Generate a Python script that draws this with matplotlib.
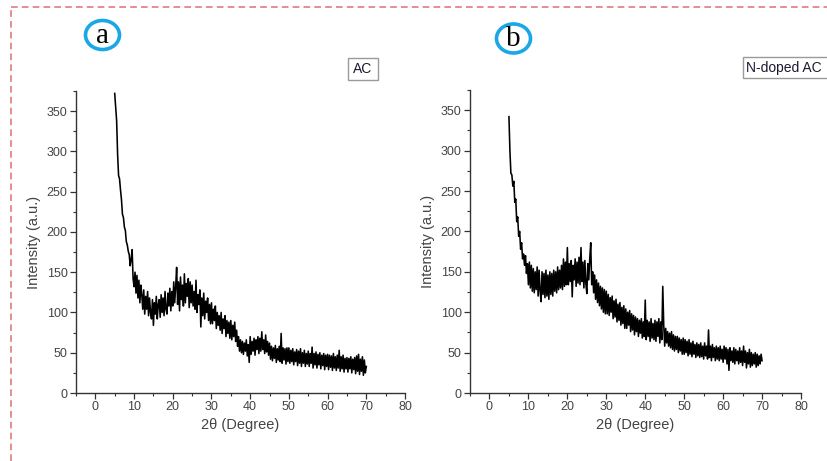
import numpy as np
import matplotlib
matplotlib.use("Agg")
import matplotlib.pyplot as plt
from matplotlib.patches import Ellipse, Rectangle
from matplotlib.lines import Line2D

plt.rcParams["font.family"] = ["Liberation Sans", "DejaVu Sans"]

# XRD patterns, one value every 0.25 degree from 5 to 70
two_theta_start = 5.0
two_theta_step = 0.25

intensity_ac = [
    372, 355, 338, 296, 270, 266, 252, 240, 222, 218,
    206, 202, 188, 184, 176, 172, 158, 166, 178, 142,
    132, 150, 124, 146, 118, 140, 112, 134, 122, 104,
    128, 98, 120, 104, 126, 96, 118, 100, 92, 116,
    84, 112, 98, 120, 92, 110, 116, 94, 122, 100,
    118, 96, 126, 104, 98, 124, 108, 130, 102, 126,
    108, 138, 112, 132, 156, 110, 138, 102, 144, 116,
    134, 108, 148, 112, 136, 120, 142, 106, 138, 112,
    134, 108, 126, 104, 140, 100, 122, 110, 128, 82,
    118, 96, 124, 92, 114, 100, 118, 90, 110, 86,
    112, 86, 104, 90, 108, 80, 100, 84, 96, 78,
    100, 74, 92, 80, 96, 70, 90, 74, 88, 68,
    90, 66, 84, 70, 88, 64, 78, 58, 70, 52,
    66, 50, 64, 48, 62, 52, 66, 46, 60, 38,
    70, 48, 64, 52, 68, 47, 66, 54, 70, 49,
    68, 52, 76, 54, 66, 49, 72, 51, 64, 47,
    62, 42, 58, 40, 56, 43, 59, 38, 55, 41,
    58, 39, 74, 37, 56, 41, 55, 36, 56, 39,
    56, 37, 53, 39, 55, 35, 51, 39, 54, 34,
    52, 37, 55, 33, 50, 37, 53, 33, 49, 36,
    52, 33, 49, 37, 57, 31, 49, 35, 51, 31,
    48, 35, 50, 30, 47, 34, 49, 29, 47, 33,
    48, 29, 47, 32, 46, 28, 49, 31, 45, 28,
    47, 31, 53, 27, 45, 30, 47, 26, 43, 30,
    44, 26, 43, 30, 45, 25, 42, 29, 44, 24,
    46, 27, 48, 23, 42, 27, 45, 22, 41, 25,
    33,
]

intensity_ndoped = [
    342, 300, 272, 270, 256, 262, 236, 240, 212, 218,
    194, 200, 178, 186, 166, 172, 158, 170, 148, 160,
    134, 162, 130, 158, 126, 154, 124, 150, 128, 156,
    120, 152, 126, 113, 150, 122, 148, 118, 152, 120,
    146, 116, 150, 122, 148, 120, 152, 126, 150, 124,
    156, 128, 152, 130, 158, 128, 166, 132, 162, 134,
    180, 134, 160, 138, 164, 119, 158, 140, 166, 132,
    162, 136, 168, 134, 180, 138, 162, 130, 164, 136,
    123, 160, 140, 166, 186, 134, 150, 124, 146, 116,
    140, 112, 136, 108, 132, 104, 130, 100, 128, 98,
    126, 98, 122, 96, 118, 100, 120, 92, 114, 94,
    116, 88, 110, 90, 112, 84, 106, 86, 108, 80,
    104, 80, 100, 84, 102, 76, 98, 78, 96, 72,
    94, 76, 92, 70, 90, 74, 92, 68, 88, 70,
    115, 66, 90, 70, 88, 64, 92, 68, 86, 66,
    90, 64, 88, 70, 92, 62, 88, 66, 132, 84,
    58, 80, 62, 76, 58, 74, 56, 76, 54, 72,
    52, 70, 54, 70, 50, 68, 52, 66, 48, 68,
    48, 66, 50, 64, 46, 66, 48, 62, 45, 64,
    48, 60, 44, 62, 46, 60, 44, 62, 45, 58,
    42, 62, 46, 58, 42, 78, 44, 58, 40, 60,
    44, 56, 40, 58, 42, 56, 40, 58, 42, 54,
    38, 58, 42, 56, 36, 54, 28, 56, 40, 52,
    38, 56, 36, 54, 40, 52, 36, 56, 38, 52,
    34, 58, 38, 52, 31, 50, 36, 54, 32, 50,
    34, 48, 36, 50, 32, 48, 34, 46, 36, 48,
    40,
]

panel_letters = ["a", "b"]
sample_names = ["AC", "N-doped AC"]
x_ticks = [0, 10, 20, 30, 40, 50, 60, 70, 80]
y_ticks = [0, 50, 100, 150, 200, 250, 300, 350]

W, H = 827, 461
fig = plt.figure(figsize=(W / 100, H / 100), dpi=100)


def px_box(left, top, right, bottom):
    return [left / W, 1 - bottom / H, (right - left) / W, (bottom - top) / H]


axes_boxes = [px_box(76, 91, 405, 393), px_box(470, 90, 801, 393)]
tick_grey = "#444444"

for box, y in zip(axes_boxes, [intensity_ac, intensity_ndoped]):
    ax = fig.add_axes(box)
    x = two_theta_start + two_theta_step * np.arange(len(y))
    ax.plot(x, y, color="black", lw=1.15)
    ax.set_xlim(-5, 80)
    ax.set_ylim(0, 375)
    ax.set_xticks(x_ticks)
    ax.set_yticks(y_ticks)
    ax.set_xticks(np.arange(-5, 81, 5), minor=True)
    ax.set_yticks(np.arange(0, 376, 25), minor=True)
    for side in ("top", "right"):
        ax.spines[side].set_visible(False)
    for side in ("left", "bottom"):
        ax.spines[side].set_color("#333333")
        ax.spines[side].set_linewidth(1.0)
    ax.tick_params(which="major", direction="out", length=4, width=0.9,
                   color="#333333", labelsize=9, labelcolor=tick_grey, pad=2)
    ax.tick_params(which="minor", direction="out", length=2.5, width=0.8,
                   color="#333333")
    ax.set_xlabel("2\u03b8 (Degree)", fontsize=10.5, color=tick_grey, labelpad=3)
    ax.set_ylabel("Intensity (a.u.)", fontsize=10.5, color=tick_grey, labelpad=4)

# dashed page frame
frame_col = "#e07c7c"
fig.add_artist(Line2D([11 / W, 1], [1 - 7 / H, 1 - 7 / H], color=frame_col,
                      lw=1.2, ls=(0, (4, 2.5))))
fig.add_artist(Line2D([11 / W, 11 / W], [0, 1 - 7 / H], color=frame_col,
                      lw=1.2, ls=(0, (4, 2.5))))

# circled panel letters
for letter, (cx, cy) in zip(panel_letters, [(102.5, 35), (513.5, 38.5)]):
    fig.add_artist(Ellipse((cx / W, 1 - cy / H), 34 / W, 29 / H,
                           facecolor="none", edgecolor="#1aa7e6", lw=2.6))
    fig.text(cx / W, 1 - (cy + 1) / H, letter, family="Liberation Serif",
             fontsize=21, ha="center", va="center", color="black")

# sample name boxes
for name, (l, t, r, b) in zip(sample_names, [(348, 58, 378, 80), (743, 57, 830, 78)]):
    fig.add_artist(Rectangle((l / W, 1 - b / H), (r - l) / W, (b - t) / H,
                             facecolor="white", edgecolor="#9a9a9a", lw=1.0))
    fig.text((l + r) / 2 / W if r < W else (l + 3) / W, 1 - (t + b) / 2 / H, name,
             fontsize=10, color="#1a1a33", va="center",
             ha="center" if r < W else "left")

fig.savefig("out.png", dpi=100)
